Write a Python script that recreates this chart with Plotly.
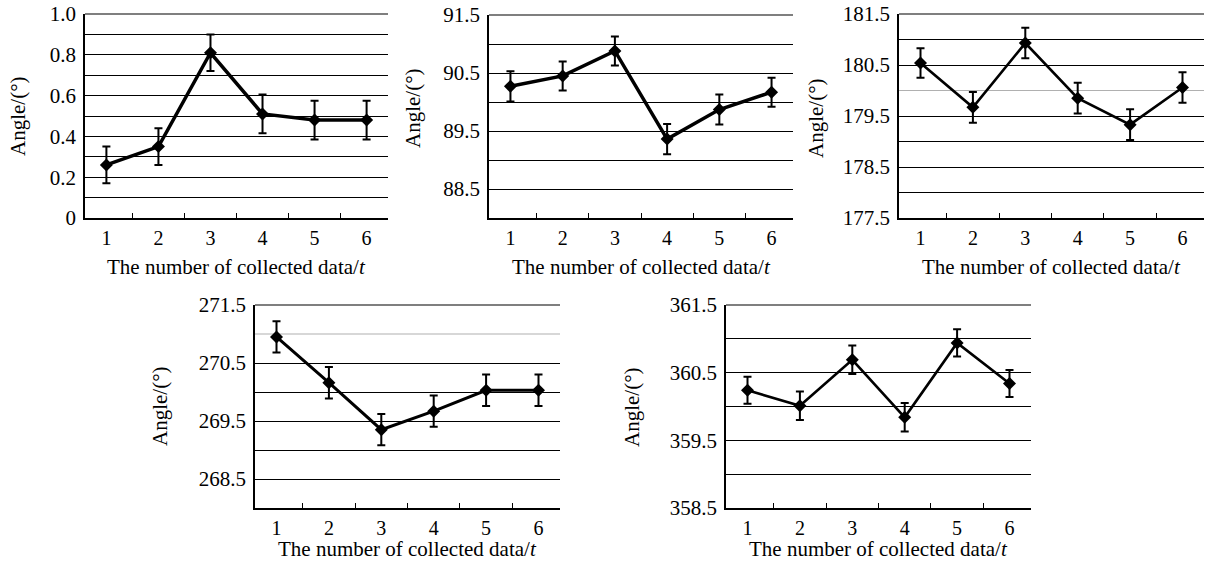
import plotly.graph_objects as go

# ---------------- data ----------------
categories = ["1", "2", "3", "4", "5", "6"]

angle_0 = [0.26, 0.35, 0.81, 0.51, 0.48, 0.48]
err_0 = [0.09, 0.09, 0.09, 0.095, 0.095, 0.095]

angle_90 = [90.27, 90.45, 90.88, 89.36, 89.87, 90.17]
err_90 = [0.26, 0.25, 0.25, 0.26, 0.26, 0.25]

angle_180 = [180.54, 179.67, 180.93, 179.85, 179.33, 180.06]
err_180 = [0.29, 0.30, 0.30, 0.30, 0.30, 0.30]

angle_270 = [270.95, 270.16, 269.35, 269.67, 270.03, 270.03]
err_270 = [0.27, 0.27, 0.27, 0.27, 0.27, 0.27]

angle_360 = [360.24, 360.01, 360.69, 359.84, 360.94, 360.34]
err_360 = [0.20, 0.21, 0.21, 0.21, 0.20, 0.20]

ytick_0 = [0, 0.2, 0.4, 0.6, 0.8, 1.0]
ytick_0_text = ["0", "0.2", "0.4", "0.6", "0.8", "1.0"]
ytick_90 = [88.5, 89.5, 90.5, 91.5]
ytick_180 = [177.5, 178.5, 179.5, 180.5, 181.5]
ytick_270 = [268.5, 269.5, 270.5, 271.5]
ytick_360 = [358.5, 359.5, 360.5, 361.5]

x_title = "The number of collected data/<i>t</i>"
y_title = "Angle/(°)"

# ---------------- layout geometry (pixels) ----------------
W, H = 1210, 566
FONT = "Liberation Serif, Times New Roman, serif"


def px_x(v):
    return min(1.0, max(0.0, v / W))


def px_y(v):
    return min(1.0, max(0.0, 1 - v / H))


panels = [
    dict(v=angle_0, e=err_0, x0=85, x1=388, yt=14, yb=218, rng=[0, 1.0],
         tv=ytick_0, tt=ytick_0_text, minor=dict(tick0=0, dtick=0.1), lw=3.5, tx=18, ty=116, xy=267),
    dict(v=angle_90, e=err_90, x0=489, x1=793, yt=15, yb=218, rng=[88.0, 91.5],
         tv=ytick_90, tt=[str(t) for t in ytick_90], minor=dict(tick0=88.0, dtick=0.5), lw=3.5, tx=413, ty=108, xy=267),
    dict(v=angle_180, e=err_180, x0=899, x1=1204, yt=14, yb=218, rng=[177.5, 181.5],
         tv=ytick_180, tt=[str(t) for t in ytick_180],
         minor=dict(tickmode="array", tickvals=[178.0, 179.0, 181.0]), lw=2.6, tx=816, ty=118, xy=267,
         gray=180.0),
    dict(v=angle_270, e=err_270, x0=255, x1=560, yt=305, yb=508, rng=[268.0, 271.5],
         tv=ytick_270, tt=[str(t) for t in ytick_270],
         minor=dict(tickmode="array", tickvals=[268.0, 269.0, 270.0]), lw=3.0, tx=160, ty=406, xy=549,
         gray=271.0),
    dict(v=angle_360, e=err_360, x0=726, x1=1031, yt=305, yb=508, rng=[358.5, 361.5],
         tv=ytick_360, tt=[str(t) for t in ytick_360], minor=dict(tick0=358.5, dtick=0.5), lw=2.6, tx=632, ty=407, xy=549),
]

fig = go.Figure()
annotations = []
shapes = []

for i, p in enumerate(panels, start=1):
    sfx = "" if i == 1 else str(i)
    fig.add_trace(go.Scatter(
        x=categories, y=p["v"],
        xaxis="x" + sfx, yaxis="y" + sfx,
        mode="lines+markers",
        line=dict(color="black", width=p["lw"]),
        marker=dict(symbol="diamond", size=10, color="black"),
        error_y=dict(type="data", array=p["e"], visible=True,
                     color="black", thickness=2, width=4),
        showlegend=False, hoverinfo="skip",
    ))

    minor = dict(showgrid=True, gridcolor="black", gridwidth=1.2, ticks="")
    minor.update(p["minor"])

    fig.layout["xaxis" + sfx] = dict(
        domain=[px_x(p["x0"]), px_x(p["x1"])],
        anchor="y" + sfx,
        type="category",
        tickson="boundaries",
        ticks="inside", ticklen=5, tickwidth=1.2, tickcolor="black",
        showline=True, linecolor="black", linewidth=1.6,
        showgrid=False, zeroline=False,
        tickfont=dict(family=FONT, size=20, color="black"),
        ticklabelstandoff=1,
        ticklabeloverflow="allow",
        automargin=False,
        fixedrange=True,
    )
    fig.layout["yaxis" + sfx] = dict(
        domain=[px_y(p["yb"]), px_y(p["yt"])],
        anchor="x" + sfx,
        range=p["rng"],
        tickmode="array", tickvals=p["tv"], ticktext=p["tt"],
        ticks="",
        showline=True, linecolor="black", linewidth=1.6,
        showgrid=True, gridcolor="black", gridwidth=1.2,
        zeroline=False,
        minor=minor,
        tickfont=dict(family=FONT, size=21, color="black"),
        ticklabelstandoff=3,
        ticklabeloverflow="allow",
        automargin=False,
        fixedrange=True,
    )

    # top frame gridline (at the range maximum)
    shapes.append(dict(type="line", xref="x%s domain" % sfx, yref="y%s domain" % sfx,
                       x0=0, x1=1, y0=1, y1=1,
                       line=dict(color="black", width=1.2), layer="below"))
    if "gray" in p:
        shapes.append(dict(type="line", xref="x%s domain" % sfx, yref="y" + sfx,
                           x0=0, x1=1, y0=p["gray"], y1=p["gray"],
                           line=dict(color="#b0b0b0", width=1.2), layer="below"))

    annotations.append(dict(
        text=y_title, textangle=-90, showarrow=False,
        xref="paper", yref="paper", x=px_x(p["tx"]), y=px_y(p["ty"]),
        xanchor="center", yanchor="middle",
        font=dict(family=FONT, size=21, color="black"),
    ))
    annotations.append(dict(
        text=x_title, showarrow=False,
        xref="paper", yref="paper",
        x=px_x((p["x0"] + p["x1"]) / 2), y=px_y(p["xy"]),
        xanchor="center", yanchor="middle",
        font=dict(family=FONT, size=21, color="black"),
    ))

fig.update_layout(
    width=W, height=H,
    margin=dict(l=0, r=0, t=0, b=0, pad=0),
    paper_bgcolor="white", plot_bgcolor="white",
    showlegend=False,
    annotations=annotations,
    shapes=shapes,
)

fig.write_html("out.html", config={"displayModeBar": False},
               post_script="document.body.style.margin='0';")
